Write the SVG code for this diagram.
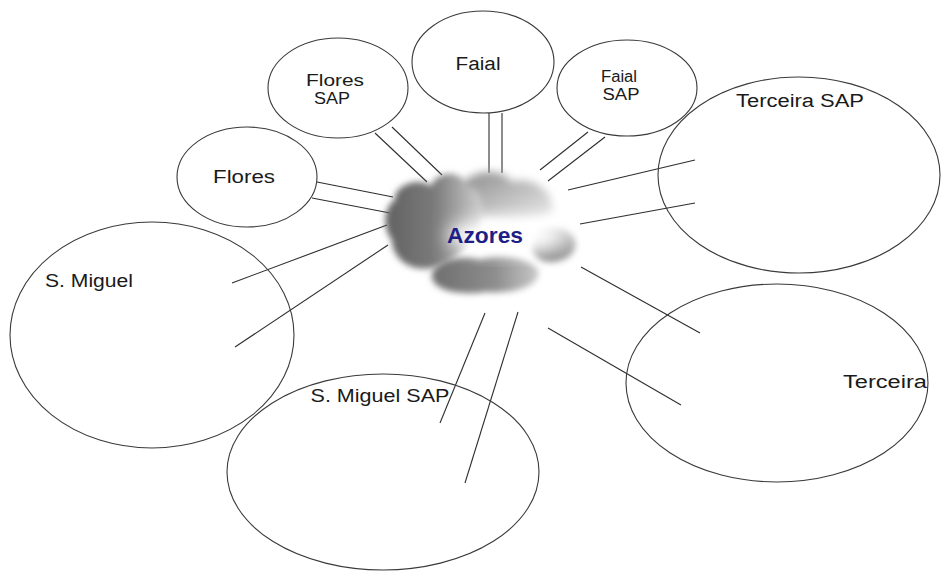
<svg xmlns="http://www.w3.org/2000/svg" width="942" height="571" viewBox="0 0 942 571">
  <defs>
    <style>
      .node { fill: none; stroke: #3a3a3a; stroke-width: 1.1; }
      .label { font-family: "Liberation Sans", Arial, sans-serif; font-size: 18px; fill: #1a1a1a; }
      .small { font-size: 16px; }
      .link { stroke: #2e2e2e; stroke-width: 1.1; fill: none; }
      .hub { font-family: "Liberation Sans", Arial, sans-serif; font-size: 22px; font-weight: bold; fill: #1e1e86; }
    </style>
    <linearGradient id="leftMass" x1="0" y1="0" x2="1" y2="0">
      <stop offset="0" stop-color="#626262"/>
      <stop offset="0.5" stop-color="#7a7a7a"/>
      <stop offset="1" stop-color="#d0d0d0"/>
    </linearGradient>
    <linearGradient id="topBump" x1="0" y1="0" x2="1" y2="1">
      <stop offset="0" stop-color="#8a8a8a"/>
      <stop offset="1" stop-color="#ececec"/>
    </linearGradient>
    <linearGradient id="lowBlob" x1="0" y1="0" x2="1" y2="0">
      <stop offset="0" stop-color="#6e6e6e"/>
      <stop offset="0.6" stop-color="#8e8e8e"/>
      <stop offset="1" stop-color="#c8c8c8"/>
    </linearGradient>
    <linearGradient id="rightLobe" x1="0" y1="0" x2="0" y2="1">
      <stop offset="0" stop-color="#d4d4d4"/>
      <stop offset="1" stop-color="#8a8a8a"/>
    </linearGradient>
    <filter id="edge" x="-20%" y="-20%" width="140%" height="140%">
      <feGaussianBlur stdDeviation="3"/>
    </filter>
    <filter id="soft" x="-30%" y="-30%" width="160%" height="160%">
      <feGaussianBlur stdDeviation="4"/>
    </filter>
    <filter id="haze" x="-40%" y="-40%" width="180%" height="180%">
      <feGaussianBlur stdDeviation="9"/>
    </filter>
  </defs>
  <rect width="942" height="571" fill="#ffffff"/>

  <!-- connectors -->
  <g id="connectors">
    <!-- Faial -->
    <line class="link" x1="489" y1="113" x2="489" y2="173"/>
    <line class="link" x1="502" y1="113" x2="502" y2="173"/>
    <!-- Flores SAP -->
    <line class="link" x1="375" y1="133" x2="427" y2="182"/>
    <line class="link" x1="392" y1="127" x2="442" y2="175"/>
    <!-- Faial SAP -->
    <line class="link" x1="588" y1="132" x2="540" y2="170"/>
    <line class="link" x1="605" y1="137" x2="548" y2="181"/>
    <!-- Terceira SAP -->
    <line class="link" x1="568" y1="190" x2="695" y2="160"/>
    <line class="link" x1="580" y1="224" x2="695" y2="203"/>
    <!-- Terceira -->
    <line class="link" x1="581" y1="267" x2="700" y2="333"/>
    <line class="link" x1="548" y1="328" x2="681" y2="405"/>
    <!-- S. Miguel SAP -->
    <line class="link" x1="485" y1="313" x2="440" y2="423"/>
    <line class="link" x1="518" y1="312" x2="465" y2="483"/>
    <!-- S. Miguel -->
    <line class="link" x1="232" y1="283" x2="387" y2="225"/>
    <line class="link" x1="235" y1="347" x2="388" y2="245"/>
    <!-- Flores -->
    <line class="link" x1="317" y1="182" x2="393" y2="197"/>
    <line class="link" x1="312" y1="198" x2="390" y2="213"/>
  </g>

  <!-- central cloud -->
  <g id="azores">
    <!-- light top puff -->
    <path filter="url(#soft)" fill="url(#topBump)"
          d="M 458 192 C 462 172, 500 164, 512 182 C 530 176, 556 190, 552 212 C 530 222, 480 222, 458 210 Z"/>
    <!-- dark left mass -->
    <path filter="url(#edge)" fill="url(#leftMass)"
          d="M 395 200 C 393 186, 418 176, 431 186 C 438 170, 460 170, 466 184 C 484 190, 488 215, 476 232
             C 466 250, 452 262, 432 268 C 410 272, 392 258, 392 240 C 382 228, 384 206, 395 200 Z"/>
    <!-- lower blob -->
    <path filter="url(#edge)" fill="url(#lowBlob)"
          d="M 432 274 C 436 260, 462 254, 480 259 C 500 252, 530 258, 538 270 C 542 286, 514 294, 486 292
             C 458 296, 430 290, 432 274 Z"/>
    <!-- small right lobe -->
    <path filter="url(#edge)" fill="url(#rightLobe)"
          d="M 534 238 C 540 226, 566 224, 574 238 C 580 252, 566 262, 550 262 C 536 262, 528 250, 534 238 Z"/>
    <!-- bright centre -->
    <ellipse cx="505" cy="236" rx="58" ry="17" fill="#ffffff" filter="url(#haze)"/>
    <text class="hub" x="485" y="243" text-anchor="middle" textLength="76" lengthAdjust="spacingAndGlyphs">Azores</text>
  </g>

  <g id="faial">
    <ellipse class="node" cx="483" cy="62" rx="71" ry="51"/>
    <text class="label" x="478" y="70" text-anchor="middle" textLength="45" lengthAdjust="spacingAndGlyphs">Faial</text>
  </g>

  <g id="flores-sap">
    <ellipse class="node" cx="338" cy="88" rx="70" ry="50"/>
    <text class="label small" x="335" y="86" text-anchor="middle" textLength="58" lengthAdjust="spacingAndGlyphs">Flores</text>
    <text class="label small" x="332" y="104" text-anchor="middle" textLength="36" lengthAdjust="spacingAndGlyphs">SAP</text>
  </g>

  <g id="faial-sap">
    <ellipse class="node" cx="627" cy="88" rx="70" ry="48"/>
    <text class="label small" x="619" y="82" text-anchor="middle" textLength="36" lengthAdjust="spacingAndGlyphs">Faial</text>
    <text class="label small" x="621" y="100" text-anchor="middle" textLength="37" lengthAdjust="spacingAndGlyphs">SAP</text>
  </g>

  <g id="flores">
    <ellipse class="node" cx="247" cy="177" rx="70" ry="50"/>
    <text class="label" x="244" y="183" text-anchor="middle" textLength="62" lengthAdjust="spacingAndGlyphs">Flores</text>
  </g>

  <g id="terceira-sap">
    <ellipse class="node" cx="799" cy="175" rx="141" ry="98"/>
    <text class="label" x="800" y="107" text-anchor="middle" textLength="128" lengthAdjust="spacingAndGlyphs">Terceira SAP</text>
  </g>

  <g id="s-miguel">
    <ellipse class="node" cx="152" cy="335" rx="142" ry="113"/>
    <text class="label" x="89" y="287" text-anchor="middle" textLength="88" lengthAdjust="spacingAndGlyphs">S. Miguel</text>
  </g>

  <g id="s-miguel-sap">
    <ellipse class="node" cx="383" cy="472" rx="156" ry="98"/>
    <text class="label" x="380" y="402" text-anchor="middle" textLength="139" lengthAdjust="spacingAndGlyphs">S. Miguel SAP</text>
  </g>

  <g id="terceira">
    <ellipse class="node" cx="777" cy="383" rx="151" ry="99"/>
    <text class="label" x="885" y="388" text-anchor="middle" textLength="84" lengthAdjust="spacingAndGlyphs">Terceira</text>
  </g>
</svg>
